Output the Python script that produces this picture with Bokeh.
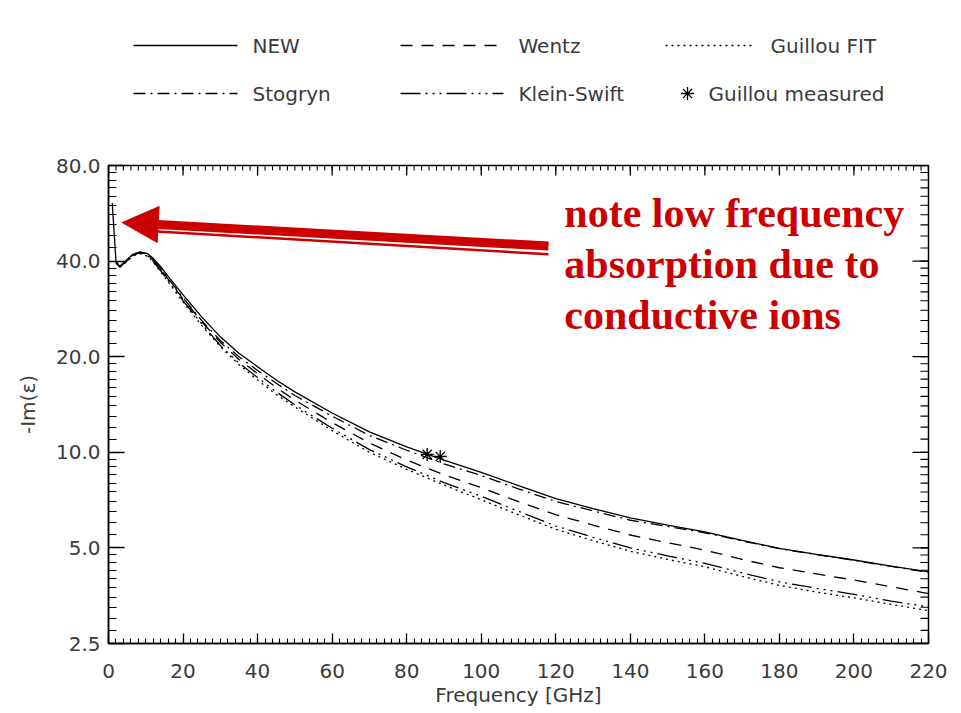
import numpy as np
from bokeh.plotting import figure
from bokeh.models import (Range1d, FixedTicker, PrintfTickFormatter, Label,
                          Arrow, NormalHead)
from bokeh.layouts import column
from bokeh.embed import file_html
from bokeh.resources import INLINE

# ---------------- data ----------------
freq_new = [1, 2, 3, 5, 6.5, 8.5, 10.5, 12, 14, 16, 20, 25, 30, 35, 40, 45, 50,
            60, 70, 80, 90, 100, 110, 120, 130, 140, 150, 160, 170, 180, 190,
            200, 210, 220]
new = [61.0, 40.0, 38.5, 40.5, 42.0, 42.8, 42.2, 40.8, 38.4, 35.8, 31.3, 26.7,
       23.1, 20.5, 18.6, 16.9, 15.5, 13.3, 11.6, 10.4, 9.45, 8.65, 7.85, 7.15,
       6.65, 6.22, 5.9, 5.62, 5.28, 4.98, 4.77, 4.58, 4.38, 4.2]

freq = [2, 3, 5, 6.5, 8.5, 10.5, 12, 14, 16, 20, 25, 30, 35, 40, 45, 50, 60,
        70, 80, 90, 100, 110, 120, 130, 140, 150, 160, 170, 180, 190, 200, 210,
        220]
wentz = [39.8, 38.4, 40.3, 41.8, 42.6, 41.9, 40.3, 37.7, 35.1, 30.4, 25.8,
         22.2, 19.6, 17.7, 16.0, 14.6, 12.4, 10.7, 9.46, 8.5, 7.74, 6.99, 6.36,
         5.9, 5.49, 5.19, 4.92, 4.6, 4.33, 4.14, 3.96, 3.77, 3.59]
guillou_fit = [39.4, 38.2, 39.9, 41.5, 42.2, 41.4, 39.7, 37.0, 34.4, 29.7,
               25.1, 21.5, 18.9, 16.9, 15.2, 13.9, 11.7, 10.0, 8.84, 7.89,
               7.09, 6.36, 5.72, 5.27, 4.88, 4.6, 4.36, 4.07, 3.81, 3.63, 3.48,
               3.32, 3.17]
stogryn = [39.5, 38.4, 40.3, 41.8, 42.6, 42.0, 40.3, 37.9, 35.3, 30.7, 26.0,
           22.5, 20.0, 18.1, 16.5, 15.1, 13.0, 11.3, 10.15, 9.2, 8.45, 7.67,
           7.0, 6.54, 6.11, 5.84, 5.58, 5.26, 4.97, 4.76, 4.57, 4.37, 4.19]
klein_swift = [39.6, 38.3, 40.1, 41.6, 42.4, 41.6, 39.9, 37.3, 34.7, 30.0,
               25.4, 21.7, 19.1, 17.2, 15.5, 14.1, 11.9, 10.2, 9.0, 8.03, 7.27,
               6.52, 5.86, 5.4, 5.0, 4.72, 4.47, 4.17, 3.91, 3.73, 3.57, 3.4,
               3.26]

freq_meas = [85.5, 89.0]
guillou_meas = [9.85, 9.7]

legend_labels = ["NEW", "Wentz", "Guillou FIT",
                 "Stogryn", "Klein-Swift", "Guillou measured"]

x_ticks = [0, 20, 40, 60, 80, 100, 120, 140, 160, 180, 200, 220]
x_minor = [i * 2 for i in range(111)]
y_ticks = [2.5, 5.0, 10.0, 20.0, 40.0, 80.0]
y_minor = ([2.5 + 0.25 * i for i in range(10)] + [5 + 0.5 * i for i in range(10)]
           + [10 + 1 * i for i in range(10)] + [20 + 2 * i for i in range(10)]
           + [40 + 4 * i for i in range(11)])

note_lines = ["note low frequency", "absorption due to", "conductive ions"]

# ---------------- styles ----------------
INK = "black"
TXT = "#3a3a3a"
RED = "#cc0000"
FONT = "DejaVu Sans"
FS = "20px"
LW = 1.3
DASH_WENTZ = "12 9"
DASH_FIT = "2 4"
DASH_STO = "12 5 2 5"
DASH_KS = "20 5 2 5 2 5 2 5"

W = 961
BL, BR = 108, 33          # left / right borders (frame 820 px wide)
FRAME_W, FRAME_H = 820, 478
X0, X1, Y0, Y1 = 0, 220, 2.5, 80

# ---------------- header (legend) ----------------
head = figure(width=W, height=128, x_range=Range1d(BL, W - BR), y_range=Range1d(0, 128),
              output_backend="svg", toolbar_location=None,
              min_border_left=BL, min_border_right=BR, min_border_top=0,
              min_border_bottom=0, x_axis_location=None, y_axis_location=None)
head.outline_line_color = None
for g in head.grid:
    g.visible = False

row1, row2 = 83, 35
head.line([133, 237], [row1, row1], line_color=INK, line_width=LW)
head.line([400, 503], [row1, row1], line_color=INK, line_width=LW, line_dash=DASH_WENTZ)
head.line([665, 752], [row1, row1], line_color=INK, line_width=LW, line_dash=DASH_FIT)
head.line([133, 237], [row2, row2], line_color=INK, line_width=LW, line_dash=DASH_STO)
head.line([400, 503], [row2, row2], line_color=INK, line_width=LW, line_dash=DASH_KS)
head.scatter([687], [row2], marker="asterisk", size=13, line_color=INK, line_width=1.3)

label_pos = [(252, row1), (518, row1), (770, row1), (252, row2), (518, row2), (708, row2)]
for txt, (lx, ly) in zip(legend_labels, label_pos):
    head.add_layout(Label(x=lx, y=ly, text=txt, text_font=FONT,
                          text_font_size=FS, text_color=TXT,
                          text_baseline="middle", text_align="left"))

# ---------------- main plot ----------------
p = figure(width=W, height=585, x_range=Range1d(X0, X1), y_range=Range1d(Y0, Y1),
           y_axis_type="log", output_backend="svg", toolbar_location=None,
           min_border_left=BL, min_border_right=BR, min_border_top=37,
           min_border_bottom=70)
p.outline_line_color = INK
p.outline_line_width = 1.5
p.xgrid.visible = False
p.ygrid.visible = False

p.line(freq, guillou_fit, line_color=INK, line_width=LW, line_dash=DASH_FIT)
p.line(freq, klein_swift, line_color=INK, line_width=LW, line_dash=DASH_KS)
p.line(freq, wentz, line_color=INK, line_width=LW, line_dash=DASH_WENTZ)
p.line(freq, stogryn, line_color=INK, line_width=LW, line_dash=DASH_STO)
p.line(freq_new, new, line_color=INK, line_width=LW)
p.scatter(freq_meas, guillou_meas, marker="asterisk", size=13, line_color=INK, line_width=1.3)

xt = FixedTicker(ticks=x_ticks, minor_ticks=x_minor)
yt = FixedTicker(ticks=y_ticks, minor_ticks=y_minor)

p.xaxis.ticker = xt
p.yaxis.ticker = yt
p.yaxis.formatter = PrintfTickFormatter(format="%.1f")
p.xaxis.axis_label = "Frequency [GHz]"
p.yaxis.axis_label = "-Im(ε)"


def style(ax, major, minor):
    ax.axis_line_color = INK
    ax.axis_line_width = 1.5
    ax.major_tick_line_color = INK
    ax.minor_tick_line_color = INK
    ax.major_tick_line_width = 1.3
    ax.minor_tick_line_width = 1.1
    ax.major_tick_in = major
    ax.major_tick_out = 0
    ax.minor_tick_in = minor
    ax.minor_tick_out = 0
    ax.major_label_text_font = FONT
    ax.major_label_text_font_size = FS
    ax.major_label_text_color = TXT
    ax.axis_label_text_font = FONT
    ax.axis_label_text_font_size = FS
    ax.axis_label_text_font_style = "normal"
    ax.axis_label_text_color = TXT


style(p.xaxis[0], 10, 5)
style(p.yaxis[0], 16, 8)
p.xaxis[0].major_label_standoff = 20
p.xaxis[0].axis_label_standoff = 2
p.yaxis[0].major_label_standoff = 8
p.yaxis[0].axis_label_standoff = 13

# mirrored ticks on the top and right frame edges (IDL style, inward)
def yshift(px):   # data factor for a vertical shift of px pixels on the log axis
    return 2 ** (px * np.log2(Y1 / Y0) / FRAME_H)

dx_per_px = (X1 - X0) / FRAME_W
xt_arr, xm_arr = np.array(x_ticks, float), np.array(x_minor, float)
yt_arr, ym_arr = np.array(y_ticks, float), np.array(y_minor, float)
p.segment(xt_arr, Y1, xt_arr, Y1 / yshift(10), line_color=INK, line_width=1.3)
p.segment(xm_arr, Y1, xm_arr, Y1 / yshift(5), line_color=INK, line_width=1.1)
p.segment(X1, yt_arr, X1 - 16 * dx_per_px, yt_arr, line_color=INK, line_width=1.3)
p.segment(X1, ym_arr, X1 - 8 * dx_per_px, ym_arr, line_color=INK, line_width=1.1)

# red arrow (double stroke)
p.add_layout(Arrow(end=NormalHead(size=36, fill_color=RED, line_color=RED, line_width=1),
                   x_start=118.05, y_start=44.6, x_end=3.68, y_end=52.9,
                   line_color=RED, line_width=9))
p.add_layout(Arrow(end=None, x_start=118.05, y_start=42.0, x_end=13.15, y_end=49.6,
                   line_color=RED, line_width=2.5))

for txt, yy in zip(note_lines, [56.5, 39.3, 27.0]):
    p.add_layout(Label(x=122.3, y=yy, text=txt, text_font="Liberation Serif",
                       text_font_size="42px", text_font_style="bold",
                       text_color=RED, text_baseline="alphabetic", text_align="left"))

layout = column(head, p, spacing=0)
open("out.html", "w").write(file_html(layout, INLINE))
